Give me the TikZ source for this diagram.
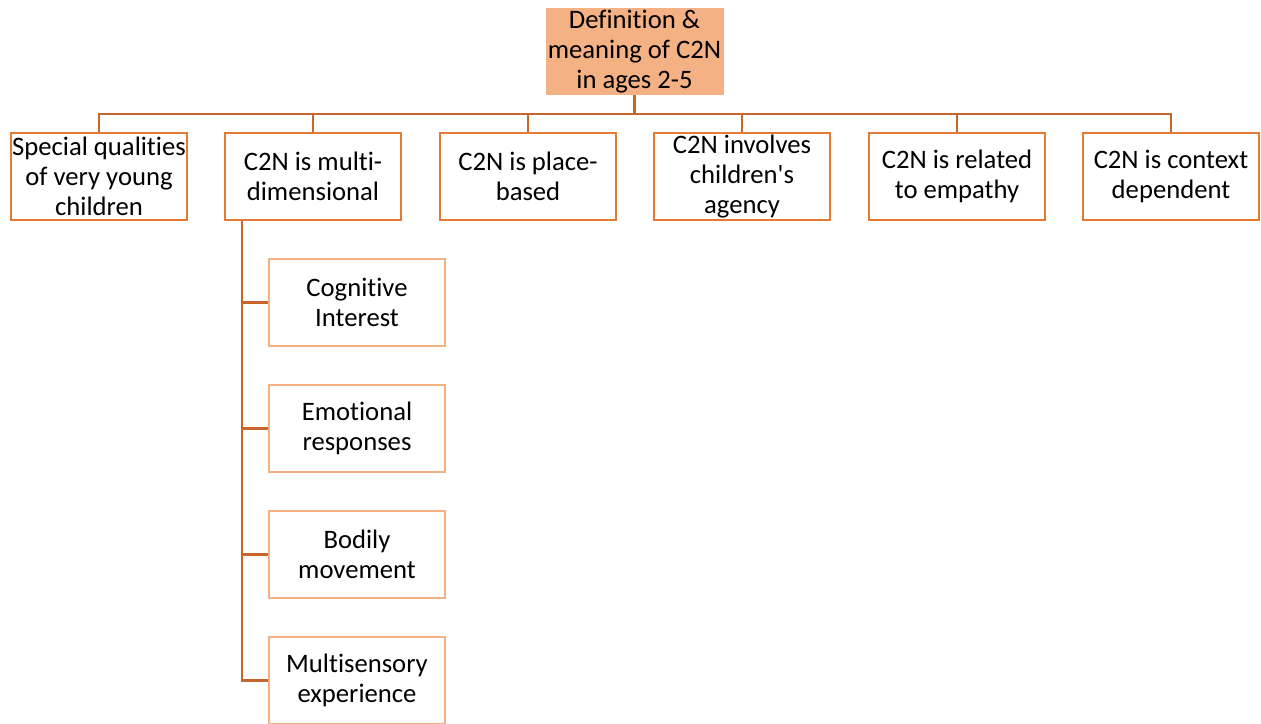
\documentclass[tikz,border=0pt]{standalone}
\usepackage{fontspec}
\setmainfont{Carlito}[Ligatures={CommonOff,TeXOff,ContextualOff}, RawFeature={-liga;-clig;-calt;-dlig}]
\usepackage{xcolor}
\usetikzlibrary{positioning, calc}

\definecolor{boxline}{HTML}{E47A35}
\definecolor{linkline}{HTML}{C8652A}
\definecolor{subline}{HTML}{F4B183}
\definecolor{rootfill}{HTML}{F4B183}

\begin{document}
\begin{tikzpicture}[
    x=0.75pt, y=-0.75pt,
    every node/.style={font=\fontsize{20pt}{22.5pt}\selectfont, align=center, inner sep=0pt},
    root/.style={rectangle, fill=rootfill, minimum width=133.5pt, minimum height=65.25pt},
    topic/.style={rectangle, draw=boxline, line width=1.8pt, fill=white, minimum width=132pt, minimum height=65.25pt},
    sub/.style={rectangle, draw=subline, line width=1.8pt, fill=white, minimum width=132pt, minimum height=65.25pt},
    link/.style={draw=linkline, line width=1.6pt}
]
\useasboundingbox (0,0) rectangle (1261,724);

% Nodes
\node[root] (root) at (634.5,51.5) {Definition \&\\meaning of C2N\\in ages 2-5};

\node[topic] (qual) at (99,176.5) {Special qualities\\of very young\\children};
\node[topic] (multi) at (313,176.5) {C2N is multi-\\dimensional};
\node[topic] (place) at (528,176.5) {C2N is place-\\based};
\node[topic] (agency) at (742,176.5) {C2N involves\\children's\\agency};
\node[topic] (empathy) at (957,176.5) {C2N is related\\to empathy};
\node[topic] (context) at (1171,176.5) {C2N is context\\dependent};

\node[sub] (cognitive) at (357,302.5) {Cognitive\\Interest};
\node[sub] (emotional) at (357,428.5) {Emotional\\responses};
\node[sub] (bodily) at (357,554.5) {Bodily\\movement};
\node[sub] (sensory) at (357,680.5) {Multisensory\\experience};

% Connectors
\foreach \t in {qual, multi, place, agency, empathy, context}
    \draw[link] (root.south) -- ++(0,19) -| (\t.north);
\foreach \s in {cognitive, emotional, bodily, sensory}
    \draw[link] ([xshift=13.5pt]multi.south west) |- (\s.west);

\end{tikzpicture}
\end{document}
